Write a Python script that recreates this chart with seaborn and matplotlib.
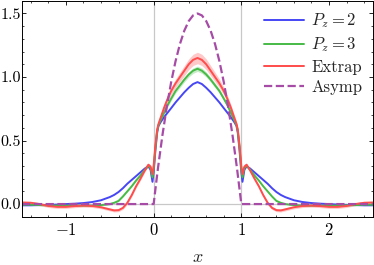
import numpy as np
import pandas as pd
import matplotlib
matplotlib.use("Agg")
import matplotlib.pyplot as plt
import seaborn as sns

# sample points along x (denser around the endpoints x=0 and x=1)
x_vals = [-1.5, -1.4, -1.3, -1.2, -1.1, -1.0, -0.9, -0.8, -0.7, -0.6,
          -0.5, -0.45, -0.4, -0.35, -0.3, -0.25, -0.2, -0.15, -0.1, -0.06,
          -0.035, -0.013, 0.0, 0.02, 0.04, 0.055, 0.08, 0.12, 0.16, 0.2,
          0.25, 0.3, 0.35, 0.4, 0.45, 0.5,
          0.55, 0.6, 0.65, 0.7, 0.75, 0.8, 0.84, 0.88, 0.92, 0.945,
          0.96, 0.98, 1.0, 1.013, 1.035, 1.06, 1.1, 1.15, 1.2, 1.25,
          1.3, 1.35, 1.4, 1.45, 1.5, 1.6, 1.7, 1.8, 1.9, 2.0,
          2.1, 2.2, 2.3, 2.4, 2.5]

pz2 = [-0.01, -0.01, -0.008, -0.006, -0.004, 0.0, 0.003, 0.008, 0.016, 0.03,
       0.055, 0.072, 0.095, 0.125, 0.16, 0.19, 0.22, 0.25, 0.28, 0.297,
       0.27, 0.175, 0.25, 0.42, 0.56, 0.615, 0.645, 0.685, 0.72, 0.755,
       0.80, 0.84, 0.88, 0.915, 0.945, 0.96,
       0.945, 0.915, 0.88, 0.84, 0.80, 0.755, 0.72, 0.685, 0.645, 0.615,
       0.56, 0.42, 0.25, 0.175, 0.27, 0.297, 0.28, 0.25, 0.22, 0.19,
       0.16, 0.125, 0.095, 0.072, 0.055, 0.03, 0.016, 0.008, 0.003, 0.0,
       -0.004, -0.006, -0.008, -0.01, -0.01]

pz3 = [-0.005, -0.005, -0.008, -0.01, -0.012, -0.012, -0.012, -0.012, -0.012, -0.008,
       0.0, 0.01, 0.025, 0.06, 0.10, 0.14, 0.185, 0.225, 0.27, 0.30,
       0.285, 0.21, 0.27, 0.44, 0.575, 0.62, 0.66, 0.72, 0.78, 0.83,
       0.89, 0.935, 0.98, 1.02, 1.05, 1.065,
       1.05, 1.02, 0.98, 0.935, 0.89, 0.83, 0.78, 0.72, 0.66, 0.62,
       0.575, 0.44, 0.27, 0.21, 0.285, 0.30, 0.27, 0.225, 0.185, 0.14,
       0.10, 0.06, 0.025, 0.01, 0.0, -0.008, -0.012, -0.012, -0.012, -0.012,
       -0.012, -0.01, -0.008, -0.005, -0.005]
pz3_err = [0.005] * 20 + [0.008, 0.008, 0.008, 0.008, 0.01, 0.01, 0.012, 0.013, 0.015, 0.016,
                          0.017, 0.018, 0.019, 0.02, 0.021, 0.021,
                          0.021, 0.02, 0.019, 0.018, 0.017, 0.016, 0.015, 0.013, 0.012, 0.01,
                          0.01, 0.008, 0.008, 0.008, 0.008] + [0.005] * 20

extrap = [0.012, 0.01, 0.0, -0.015, -0.022, -0.022, -0.016, -0.012, -0.015, -0.025,
          -0.042, -0.05, -0.048, -0.03, 0.01, 0.07, 0.14, 0.20, 0.265, 0.31,
          0.295, 0.235, 0.30, 0.46, 0.585, 0.63, 0.68, 0.76, 0.83, 0.89,
          0.95, 1.0, 1.05, 1.10, 1.135, 1.15,
          1.135, 1.10, 1.05, 1.0, 0.95, 0.89, 0.83, 0.76, 0.68, 0.63,
          0.585, 0.46, 0.30, 0.235, 0.295, 0.31, 0.265, 0.20, 0.14, 0.07,
          0.01, -0.03, -0.048, -0.05, -0.042, -0.025, -0.015, -0.012, -0.016, -0.022,
          -0.022, -0.015, 0.0, 0.01, 0.012]
extrap_err = [0.012] * 20 + [0.015, 0.015, 0.016, 0.016, 0.018, 0.02, 0.022, 0.025, 0.028, 0.031,
                             0.034, 0.037, 0.04, 0.042, 0.044, 0.045,
                             0.044, 0.042, 0.04, 0.037, 0.034, 0.031, 0.028, 0.025, 0.022, 0.02,
                             0.018, 0.016, 0.016, 0.015, 0.015] + [0.012] * 20

asymp_x = [-1.5, 0.0, 0.05, 0.1, 0.15, 0.2, 0.25, 0.3, 0.35, 0.4, 0.45, 0.5,
           0.55, 0.6, 0.65, 0.7, 0.75, 0.8, 0.85, 0.9, 0.95, 1.0, 2.5]
asymp = [0.0, 0.0, 0.285, 0.54, 0.765, 0.96, 1.125, 1.26, 1.365, 1.44, 1.485, 1.5,
         1.485, 1.44, 1.365, 1.26, 1.125, 0.96, 0.765, 0.54, 0.285, 0.0, 0.0]

c_blue = "#4646f5"
c_green = "#46bb46"
c_red = "#ff4c4c"
c_purple = "#a64ca6"

sns.set_theme(style="ticks")
plt.rcParams.update({
    "font.family": "serif",
    "font.serif": ["cmr10"],
    "mathtext.fontset": "cm",
    "axes.formatter.use_mathtext": True,
    "font.size": 12,
    "axes.linewidth": 0.7,
    "axes.edgecolor": "black",
    "xtick.direction": "in",
    "ytick.direction": "in",
    "xtick.top": True,
    "ytick.right": True,
    "xtick.major.size": 3.2,
    "ytick.major.size": 3.2,
    "xtick.minor.size": 1.6,
    "ytick.minor.size": 1.6,
    "xtick.major.width": 0.6,
    "ytick.major.width": 0.6,
    "xtick.minor.width": 0.5,
    "ytick.minor.width": 0.5,
    "xtick.major.pad": 4,
    "ytick.major.pad": 1,
    "xtick.labelsize": 12,
    "ytick.labelsize": 11.5,
    "xtick.color": "black",
    "ytick.color": "black",
})

df = pd.DataFrame({"x": x_vals, "pz2": pz2, "pz3": pz3, "extrap": extrap,
                   "pz3_err": pz3_err, "extrap_err": extrap_err})
df_asymp = pd.DataFrame({"x": asymp_x, "y": asymp})

fig = plt.figure(figsize=(3.74, 2.65), dpi=100)
ax = fig.add_axes([0.059, 0.182, 0.938, 0.815])

ax.axvline(0, color="#c8c8c8", lw=0.9, zorder=0)
ax.axvline(1, color="#c8c8c8", lw=0.9, zorder=0)
ax.axhline(0, color="#c8c8c8", lw=0.9, zorder=0)

ax.fill_between(df["x"], df["pz3"] - df["pz3_err"], df["pz3"] + df["pz3_err"],
                color=c_green, alpha=0.3, lw=0)
ax.fill_between(df["x"], df["extrap"] - df["extrap_err"], df["extrap"] + df["extrap_err"],
                color=c_red, alpha=0.3, lw=0)

sns.lineplot(data=df, x="x", y="pz2", ax=ax, color=c_blue, lw=1.4, label=r"$P_z = 2$")
sns.lineplot(data=df, x="x", y="pz3", ax=ax, color=c_green, lw=1.4, label=r"$P_z = 3$")
sns.lineplot(data=df, x="x", y="extrap", ax=ax, color=c_red, lw=1.4, label="Extrap")
sns.lineplot(data=df_asymp, x="x", y="y", ax=ax, color=c_purple, lw=1.6,
             linestyle="--", label="Asymp")

ax.set_xlim(-1.5, 2.5)
ax.set_ylim(-0.1, 1.6)
ax.set_xticks([-1, 0, 1, 2])
ax.set_yticks([0.0, 0.5, 1.0, 1.5])
ax.set_yticklabels(["0.0", "0.5", "1.0", "1.5"])
ax.xaxis.set_minor_locator(matplotlib.ticker.MultipleLocator(0.2))
ax.yaxis.set_minor_locator(matplotlib.ticker.MultipleLocator(0.1))
ax.tick_params(which="both", top=True, right=True, direction="in")
ax.set_xlabel("$x$", fontsize=13, labelpad=8)
ax.set_ylabel("")

ax.legend(loc="upper right", frameon=False, fontsize=12, handlelength=2.4,
          handletextpad=0.45, labelspacing=0.3, borderaxespad=0.25)

fig.savefig("out.png", dpi=100)
